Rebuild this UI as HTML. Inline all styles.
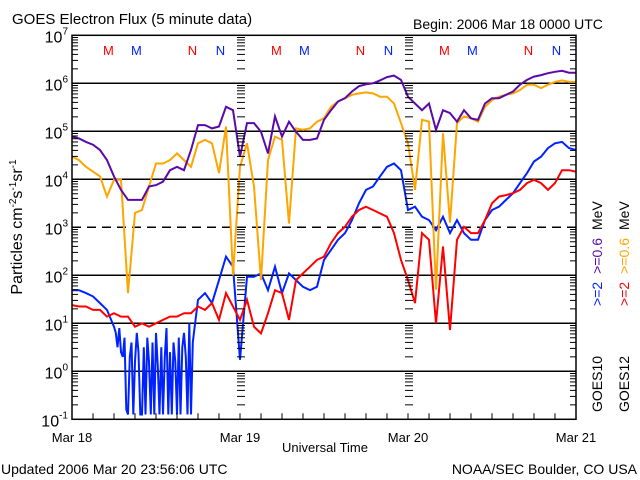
<!DOCTYPE html>
<html><head><meta charset="utf-8"><style>
body{margin:0;background:#fff}
svg{display:block;font-family:"Liberation Sans",sans-serif}
</style></head><body>
<svg id="chart" width="640" height="480" viewBox="0 0 640 480" xmlns="http://www.w3.org/2000/svg">
<rect width="640" height="480" fill="#fff"/>
<text x="12" y="24" font-size="15">GOES Electron Flux (5 minute data)</text>
<text x="413" y="29" font-size="14">Begin: 2006 Mar 18 0000 UTC</text>
<text x="1" y="474" font-size="14">Updated 2006 Mar 20 23:56:06 UTC</text>
<text x="637" y="474" font-size="14" text-anchor="end">NOAA/SEC Boulder, CO USA</text>
<text x="325" y="452" font-size="13" text-anchor="middle">Universal Time</text>
<text transform="translate(22,227) rotate(-90)" font-size="16" text-anchor="middle">Particles cm<tspan dy="-6" font-size="10">-2</tspan><tspan dy="6">s</tspan><tspan dy="-6" font-size="10">-1</tspan><tspan dy="6">sr</tspan><tspan dy="-6" font-size="10">-1</tspan></text>
<g id="grid"></g>
<g id="series"></g>
<g id="axes"></g>
<g font-size="14">
<text transform="translate(602,412) rotate(-90)"><tspan>GOES10</tspan><tspan dx="50" fill="#0022ff">&gt;=2</tspan><tspan dx="8" fill="#5a0aa8">&gt;=0.6</tspan><tspan dx="8">MeV</tspan></text>
<text transform="translate(629,412) rotate(-90)"><tspan>GOES12</tspan><tspan dx="50" fill="#ff0000">&gt;=2</tspan><tspan dx="8" fill="#ffa500">&gt;=0.6</tspan><tspan dx="8">MeV</tspan></text>
</g>
</svg>
<script>
const dayLabels=["Mar 18","Mar 19","Mar 20","Mar 21"];
const decadeExps=[-1,0,1,2,3,4,5,6,7];
const markerLabels=["M","M","N","N","M","M","N","N","M","M","N","N"];
const markerHours=[5.2,9.2,17.2,21.2,29.2,33.2,41.2,45.2,53.2,57.2,65.2,69.2];
const markerColors=["#ff0000","#0022ff","#ff0000","#0022ff","#ff0000","#0022ff","#ff0000","#0022ff","#ff0000","#0022ff","#ff0000","#0022ff"];
// log10 flux at hourly intervals, hour 0..72
const goes10Low=[4.89,4.85,4.78,4.72,4.61,4.40,4.06,3.78,3.57,3.57,3.57,3.85,3.88,3.95,4.19,4.26,4.19,4.61,5.13,5.13,5.06,5.10,5.51,5.44,4.47,
5.17,5.17,4.99,4.54,5.31,4.89,5.20,4.99,4.82,4.82,4.85,5.24,5.44,5.62,5.69,5.83,5.94,5.98,6.00,6.06,6.13,6.16,6.07,5.72,
5.58,5.44,5.58,5.03,5.44,5.38,5.20,5.44,5.27,5.24,5.58,5.69,5.69,5.76,5.83,5.97,6.07,6.14,6.17,6.21,6.24,6.26,6.22,6.22];
const goes12Low=[4.47,4.40,4.26,4.16,4.06,3.64,3.99,3.99,1.63,3.30,3.36,3.85,4.33,4.33,4.40,4.54,4.40,4.26,4.75,4.82,4.75,4.13,5.10,2.00,4.26,
4.75,3.85,1.90,4.40,4.89,4.82,3.08,5.06,5.03,5.06,5.20,5.27,5.51,5.62,5.69,5.76,5.79,5.81,5.79,5.72,5.72,5.58,5.17,4.75,
3.78,5.24,5.20,1.70,4.96,3.10,5.17,5.31,5.27,5.20,5.51,5.65,5.72,5.76,5.79,5.86,5.97,5.97,5.90,5.97,6.03,6.06,6.03,6.03];
const goes10High=[1.69,1.69,1.63,1.56,1.42,1.28,0.93,0.30,-0.90,0.40,-0.90,0.20,-0.90,0.50,-0.90,0.10,-0.90,1.20,1.49,1.63,1.42,1.90,2.39,2.18,0.24,
1.97,1.97,2.04,1.69,2.18,1.63,2.04,1.90,1.76,1.69,1.76,2.32,2.53,2.74,2.88,3.15,3.50,3.78,3.85,4.06,4.26,4.33,4.19,3.36,
3.43,3.22,3.15,2.94,3.22,2.88,3.15,2.88,2.74,2.74,3.15,3.36,3.43,3.57,3.71,3.92,4.13,4.37,4.47,4.65,4.75,4.78,4.65,4.61];
// denser quarter-hour readings for the noisy interval of GOES10 >=2 MeV (hours 6..18)
const goes10HighDenseStart=6;
const goes10HighDense=[0.93,0.80,0.50,0.90,0.40,0.30,0.70,-0.80,-0.90,0.30,0.60,-0.90,0.20,0.80,0.40,-0.90,
-0.90,0.50,-0.90,0.70,0.20,-0.90,0.60,-0.90,0.80,0.10,-0.90,0.50,-0.90,0.30,0.90,-0.90,
0.40,-0.90,0.60,0.20,-0.90,0.70,-0.90,0.50,0.80,0.30,-0.90,1.00,-0.90,0.60,0.90,1.20,1.49];
const goes12High=[1.38,1.35,1.35,1.28,1.28,1.14,1.21,1.14,1.14,0.93,1.00,0.93,1.00,1.07,1.14,1.14,1.21,1.21,1.35,1.28,1.42,1.07,1.63,1.35,1.07,
1.49,0.93,0.79,1.21,1.69,1.63,1.07,1.90,2.04,2.18,2.32,2.39,2.67,2.88,3.01,3.22,3.36,3.43,3.36,3.29,3.22,2.88,2.32,1.90,
1.42,2.88,2.74,1.00,2.60,0.86,2.74,3.01,2.88,2.88,3.15,3.50,3.64,3.67,3.71,3.78,3.92,3.99,3.92,3.78,3.92,4.19,4.19,4.16];

const NS="http://www.w3.org/2000/svg";
const L=72,R=576,T=35.3,B=419.3;
const xs=h=>L+(R-L)*h/72;
const ys=e=>T+(7-e)*(B-T)/8;
function mk(tag,attrs,parent){const el=document.createElementNS(NS,tag);for(const k in attrs)el.setAttribute(k,attrs[k]);parent.appendChild(el);return el;}
const grid=document.getElementById('grid'),axes=document.getElementById('axes'),series=document.getElementById('series');

decadeExps.forEach(e=>{
  if(e>-1&&e<7){
    const ln=mk('line',{x1:L,x2:R,y1:ys(e),y2:ys(e),stroke:'#000','stroke-width':1.5},grid);
    if(e===3)ln.setAttribute('stroke-dasharray','9,6');
    
    
  }
  const t=mk('text',{x:68,y:ys(e)+7,'font-size':16,'text-anchor':'end'},axes);
  
  
  t.innerHTML='10<tspan dy="-8" font-size="10">'+e+'</tspan>';
  if(e<7){
    for(let m=2;m<=9;m++){
      const y=ys(e+Math.log10(m));
      [[L,L+6],[R-6,R],[xs(24)-3,xs(24)+5],[xs(48)-3,xs(48)+5]].forEach(p=>{
        const tk=mk('line',{x1:p[0],x2:p[1],y1:y,y2:y,stroke:'#000','stroke-width':1},axes);
        
        
      });
    }
  }
});
for(let h=3;h<72;h+=3){
  const tk=mk('line',{x1:xs(h),x2:xs(h),y1:B,y2:B-6,stroke:'#000','stroke-width':1},axes);
  
  
}
dayLabels.forEach((d,i)=>{
  const t=mk('text',{x:xs(i*24),y:442,'font-size':13,'text-anchor':'middle'},axes);
  
  
  t.textContent=d;
});
const frame=mk('rect',{x:L,y:T,width:R-L,height:B-T,fill:'none',stroke:'#000','stroke-width':1.5},axes);


markerLabels.forEach((m,i)=>{
  const t=mk('text',{x:xs(markerHours[i]),y:55,'font-size':13,'text-anchor':'middle',fill:markerColors[i]},axes);
  
  
  t.textContent=m;
});
function draw(pairs,color,name){
  const pts=pairs.map(p=>xs(p[0]).toFixed(1)+','+ys(Math.max(p[1],-0.9)).toFixed(1)).join(' ');
  const pl=mk('polyline',{points:pts,fill:'none',stroke:color,'stroke-width':2,'stroke-linejoin':'miter'},series);
  
  
}
const hourly=vals=>vals.map((v,i)=>[i,v]);
const denseEnd=goes10HighDenseStart+(goes10HighDense.length-1)/4;
const blue=[];
goes10High.forEach((v,i)=>{if(i<goes10HighDenseStart)blue.push([i,v]);});
goes10HighDense.forEach((v,i)=>blue.push([goes10HighDenseStart+i/4,v]));
goes10High.forEach((v,i)=>{if(i>denseEnd)blue.push([i,v]);});
draw(blue,'#0022ff','goes10-2mev-line');
draw(hourly(goes12High),'#ff0000','goes12-2mev-line');
draw(hourly(goes12Low),'#ffa500','goes12-0.6mev-line');
draw(hourly(goes10Low),'#5a0aa8','goes10-0.6mev-line');
</script>
</body></html>
